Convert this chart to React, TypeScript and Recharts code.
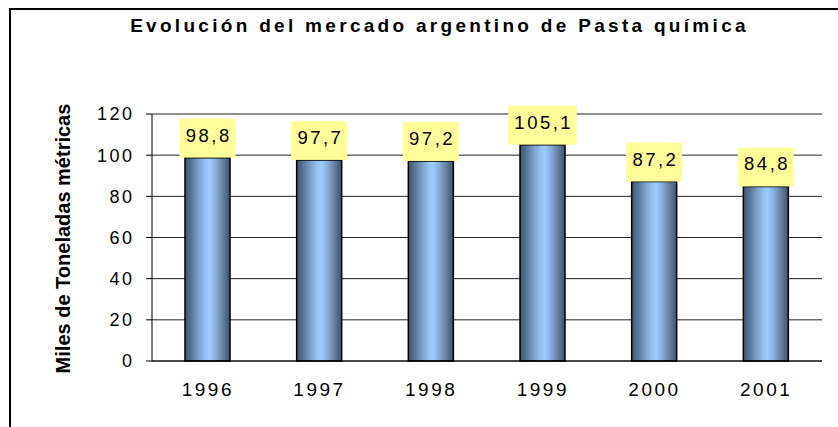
import React from 'react';
import { BarChart, Bar, XAxis, YAxis, CartesianGrid, LabelList } from 'recharts';

const years = ['1996', '1997', '1998', '1999', '2000', '2001'];
const values = [98.8, 97.7, 97.2, 105.1, 87.2, 84.8];
const yTicks = [0, 20, 40, 60, 80, 100, 120];
const boundaryTicks = [0, 1, 2, 3, 4, 5, 6];
const title = 'Evolución del mercado argentino de Pasta química';
const yLabel = 'Miles de Toneladas métricas';

const data = years.map((y, i) => ({ year: y, value: values[i], idx: i + 0.5 }));

const FONT = "'Liberation Sans', Arial, Helvetica, sans-serif";

const fmt = (v: number) => v.toFixed(1).replace('.', ',');

const DataLabel = (props: any) => {
  const { x, y, width, value } = props;
  const s = fmt(Number(value));
  const w = 6 + 12.5 * s.length;
  const h = 39;
  const cx = x + width / 2;
  return (
    <g>
      <rect x={cx - w / 2} y={y - h} width={w} height={h} fill="#ffff99" />
      <text
        x={cx + 1.25}
        y={y - 16}
        textAnchor="middle"
        fontSize={18.5}
        letterSpacing={2.5}
        fill="#000"
        fontFamily={FONT}
      >
        {s}
      </text>
    </g>
  );
};

export default function App() {
  return (
    <div
      style={{
        position: 'fixed',
        left: 0,
        top: 0,
        width: 838,
        height: 427,
        overflow: 'hidden',
        background: '#fff',
      }}
    >
      <div
        style={{
          position: 'absolute',
          left: 9,
          top: 8,
          width: 900,
          height: 500,
          borderLeft: '2px solid #000',
          borderTop: '2px solid #000',
        }}
      />
      <div style={{ position: 'absolute', left: 0, top: 0 }}>
        <BarChart
          width={838}
          height={427}
          data={data}
          margin={{ top: 114, right: 16, bottom: 0, left: 0 }}
          barSize={45}
        >
          <defs>
            <linearGradient id="cyl" x1="0" y1="0" x2="1" y2="0">
              <stop offset="0%" stopColor="#40536e" />
              <stop offset="15%" stopColor="#5a7698" />
              <stop offset="30%" stopColor="#7b9fcb" />
              <stop offset="45%" stopColor="#93c0f2" />
              <stop offset="55%" stopColor="#99ccff" />
              <stop offset="70%" stopColor="#84a9d8" />
              <stop offset="85%" stopColor="#627d9b" />
              <stop offset="100%" stopColor="#3f526d" />
            </linearGradient>
          </defs>
          <CartesianGrid vertical={false} stroke="#222" strokeWidth={1} />
          <XAxis
            xAxisId="b"
            type="number"
            dataKey="idx"
            domain={[0, 6]}
            allowDataOverflow
            ticks={boundaryTicks}
            tick={false}
            tickLine={{ stroke: '#000' }}
            tickSize={6}
            axisLine={{ stroke: '#000' }}
            height={0}
          />
          <XAxis
            dataKey="year"
            tickLine={false}
            tickSize={0}
            tickMargin={22}
            axisLine={{ stroke: '#000' }}
            height={66}
            interval={0}
            tick={{ fontSize: 19, fill: '#000', fontFamily: FONT, letterSpacing: 2.5 }}
          />
          <XAxis
            xAxisId="t"
            dataKey="year"
            orientation="top"
            height={0}
            tick={false}
            tickLine={false}
            axisLine={{ stroke: '#808080' }}
          />
          <YAxis
            domain={[0, 120]}
            ticks={yTicks}
            width={152}
            tickSize={6}
            tickMargin={11.5}
            tickLine={{ stroke: '#000' }}
            axisLine={{ stroke: '#000' }}
            interval={0}
            tick={{ fontSize: 18, fill: '#000', fontFamily: FONT, letterSpacing: 2.5 }}
          />
          <YAxis
            yAxisId="r"
            orientation="right"
            domain={[0, 120]}
            width={0}
            tick={false}
            tickLine={false}
            axisLine={{ stroke: '#808080' }}
          />
          <Bar
            dataKey="value"
            fill="url(#cyl)"
            stroke="#000"
            strokeWidth={1.5}
            isAnimationActive={false}
          >
            <LabelList dataKey="value" content={DataLabel} />
          </Bar>
        </BarChart>
      </div>
      <svg
        width={838}
        height={427}
        style={{ position: 'absolute', left: 0, top: 0, pointerEvents: 'none' }}
      >
        <text
          x={439.5}
          y={32}
          textAnchor="middle"
          fontSize={19}
          fontWeight="bold"
          letterSpacing={3.3}
          fontFamily={FONT}
          fill="#000"
        >
          {title}
        </text>
        <text
          x={70}
          y={238.5}
          transform="rotate(-90, 70, 238.5)"
          textAnchor="middle"
          fontSize={20}
          fontWeight="bold"
          fontFamily={FONT}
          fill="#000"
        >
          {yLabel}
        </text>
      </svg>
    </div>
  );
}
